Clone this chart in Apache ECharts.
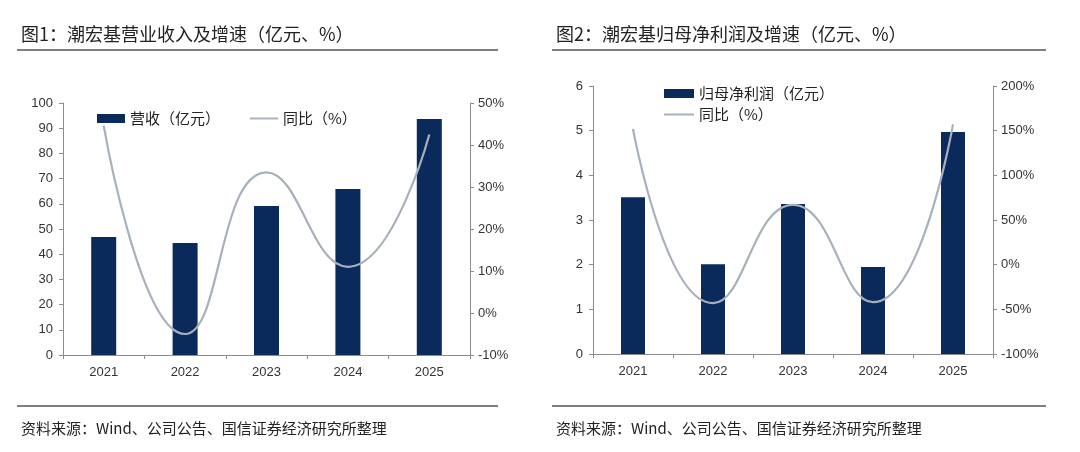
<!DOCTYPE html>
<html><head><meta charset="utf-8">
<script src="https://cdn.jsdelivr.net/npm/echarts@6/dist/echarts.min.js"></script>
<style>html,body{margin:0;padding:0;background:#fff}#c{width:1080px;height:452px}</style>
</head><body><div id="c"></div>
<script>
const years = ['2021','2022','2023','2024','2025'];
const revenue = [46.8, 44.4, 59.1, 65.9, 93.7];
const revenueYoY = [44.6, -5.0, 33.5, 11.0, 42.5];
const profit = [3.51, 2.01, 3.36, 1.95, 4.97];
const profitYoY = [152, -43, 67, -42, 157];
const titles = ['图1：潮宏基营业收入及增速（亿元、%）', '图2：潮宏基归母净利润及增速（亿元、%）'];
const source = '资料来源：Wind、公司公告、国信证券经济研究所整理';

const NAVY = '#0b2a5c', GRAY = '#a7b0bc', AX = '#8c8c8c';
const cjk = '"Noto Sans CJK SC", sans-serif';
const num = '"Liberation Sans", Arial, sans-serif';
const LINE_ICON = 'path://M0,0 L30,0 L30,2 L0,2 Z';
const YOY2 = '同比（%）\u200b';

function yAxis(gi, min, max, interval, pct, pos) {
  return {
    type: 'value', gridIndex: gi, min, max, interval, position: pos,
    axisLine: {show: true, lineStyle: {color: AX}},
    axisTick: {show: true, length: 4, lineStyle: {color: AX}},
    splitLine: {show: false},
    axisLabel: {color: '#333', fontSize: 13, fontFamily: num, margin: pos === 'left' ? 10 : 8,
      formatter: v => pct ? v + '%' : v}
  };
}
function xAxis(gi) {
  return {
    type: 'category', gridIndex: gi, data: years, boundaryGap: true,
    axisLine: {lineStyle: {color: AX}},
    axisTick: {show: true, length: 4, lineStyle: {color: AX}},
    axisLabel: {color: '#333', fontSize: 13, fontFamily: num, margin: 11}
  };
}
const chart = echarts.init(document.getElementById('c'));
chart.setOption({
  animation: false,
  title: [
    {text: titles[0], left: 16, top: 20, textStyle: {fontFamily: cjk, fontSize: 18, fontWeight: 'normal', color: '#222'}},
    {text: titles[1], left: 551, top: 20, textStyle: {fontFamily: cjk, fontSize: 18, fontWeight: 'normal', color: '#222'}},
    {text: source, left: 16, top: 416, textStyle: {fontFamily: cjk, fontSize: 15, fontWeight: 'normal', color: '#222'}},
    {text: source, left: 551, top: 416, textStyle: {fontFamily: cjk, fontSize: 15, fontWeight: 'normal', color: '#222'}}
  ],
  graphic: [
    {type: 'line', shape: {x1: 17, y1: 50, x2: 498, y2: 50}, style: {stroke: '#555', lineWidth: 1.5}},
    {type: 'line', shape: {x1: 552, y1: 50, x2: 1046, y2: 50}, style: {stroke: '#555', lineWidth: 1.5}},
    {type: 'line', shape: {x1: 17, y1: 406, x2: 498, y2: 406}, style: {stroke: '#555', lineWidth: 1.5}},
    {type: 'line', shape: {x1: 552, y1: 406, x2: 1046, y2: 406}, style: {stroke: '#555', lineWidth: 1.5}}
  ],
  legend: [
    {left: 92, top: 106, itemGap: 30, itemWidth: 28, itemHeight: 9,
      textStyle: {fontFamily: cjk, fontSize: 15, color: '#222'},
      data: [{name: '营收（亿元）', icon: 'rect'}, {name: '同比（%）', icon: LINE_ICON}]},
    {left: 659, top: 81, orient: 'vertical', itemGap: 6, itemWidth: 30, itemHeight: 9,
      textStyle: {fontFamily: cjk, fontSize: 15, color: '#222'},
      data: [{name: '归母净利润（亿元）', icon: 'rect'}, {name: YOY2, icon: LINE_ICON}]}
  ],
  grid: [
    {left: 63, right: 610, top: 103, bottom: 97},
    {left: 593, right: 87, top: 86, bottom: 98}
  ],
  xAxis: [xAxis(0), xAxis(1)],
  yAxis: [
    yAxis(0, 0, 100, 10, false, 'left'),
    yAxis(0, -10, 50, 10, true, 'right'),
    yAxis(1, 0, 6, 1, false, 'left'),
    yAxis(1, -100, 200, 50, true, 'right')
  ],
  series: [
    {name: '营收（亿元）', type: 'bar', xAxisIndex: 0, yAxisIndex: 0, data: revenue, barWidth: 25, itemStyle: {color: NAVY}},
    {name: '同比（%）', type: 'line', xAxisIndex: 0, yAxisIndex: 1, data: revenueYoY, smooth: 0.5, symbol: 'none', lineStyle: {color: GRAY, width: 2.2}, itemStyle: {color: GRAY}},
    {name: '归母净利润（亿元）', type: 'bar', xAxisIndex: 1, yAxisIndex: 2, data: profit, barWidth: 24, itemStyle: {color: NAVY}},
    {name: YOY2, type: 'line', xAxisIndex: 1, yAxisIndex: 3, data: profitYoY, smooth: 0.5, symbol: 'none', lineStyle: {color: GRAY, width: 2.2}, itemStyle: {color: GRAY}}
  ]
});
</script></body></html>
